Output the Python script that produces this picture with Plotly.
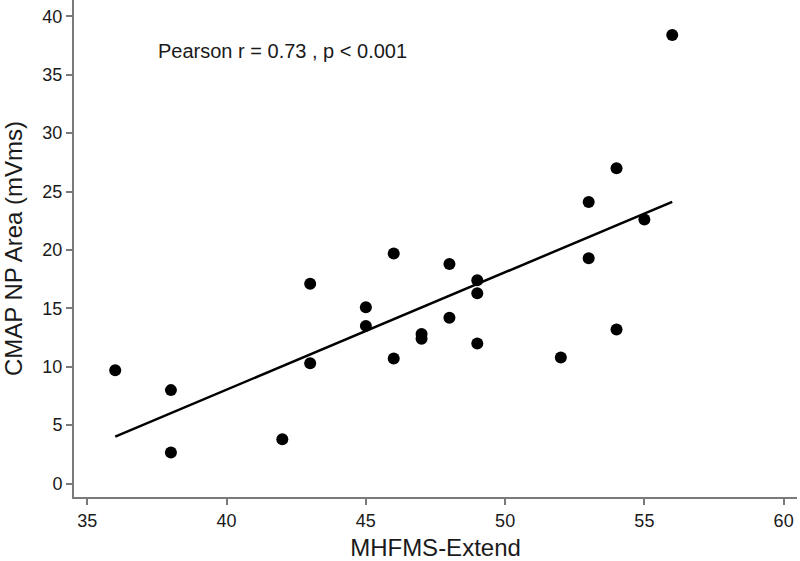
import numpy as np
import plotly.graph_objects as go

mhfms = [36, 38, 38, 42, 43, 43, 45, 45, 46, 46, 47, 47, 48, 48,
         49, 49, 49, 52, 53, 53, 54, 54, 55, 56]
cmap_area = [9.7, 8.0, 2.65, 3.8, 17.1, 10.3, 15.1, 13.5, 19.7, 10.7, 12.8, 12.4, 18.8, 14.2,
             17.4, 16.3, 12.0, 10.8, 24.1, 19.3, 27.0, 13.2, 22.6, 38.4]
x_ticks = [35, 40, 45, 50, 55, 60]
y_ticks = [0, 5, 10, 15, 20, 25, 30, 35, 40]
annotation_text = "Pearson r = 0.73 , p < 0.001"

slope, intercept = np.polyfit(mhfms, cmap_area, 1)
fit_x = [min(mhfms), max(mhfms)]
fit_y = [slope * v + intercept for v in fit_x]

font_family = "Liberation Sans, Arial, Helvetica, sans-serif"
axis_color = "#7a7a7a"
text_color = "#1a1a1a"

fig = go.Figure()
fig.add_trace(go.Scatter(x=mhfms, y=cmap_area, mode="markers",
                         marker=dict(color="black", size=12, line=dict(width=0)),
                         showlegend=False))
fig.add_trace(go.Scatter(x=fit_x, y=fit_y, mode="lines",
                         line=dict(color="black", width=2.5),
                         showlegend=False))

fig.add_annotation(x=37.45, y=37.0, xref="x", yref="y", text=annotation_text,
                   showarrow=False, xanchor="left", yanchor="middle",
                   font=dict(family=font_family, size=20, color=text_color))

fig.update_layout(
    width=800, height=561,
    margin=dict(l=74, r=3, t=0, b=64),
    plot_bgcolor="white", paper_bgcolor="white",
    font=dict(family=font_family, color=text_color),
)
fig.update_xaxes(range=[34.52, 60.48], tickvals=x_ticks, ticktext=[str(v) for v in x_ticks],
                 showgrid=False, zeroline=False, showline=True, linecolor=axis_color, linewidth=2,
                 ticks="outside", ticklen=6, tickwidth=2, tickcolor=axis_color,
                 tickfont=dict(size=18, color=text_color),
                 title=dict(text="MHFMS-Extend", font=dict(size=24, color=text_color), standoff=11))
fig.update_yaxes(range=[-1.15, 41.4], tickvals=y_ticks, ticktext=[str(v) for v in y_ticks],
                 showgrid=False, zeroline=False, showline=True, linecolor=axis_color, linewidth=2,
                 ticks="outside", ticklen=6, tickwidth=2, tickcolor=axis_color,
                 tickfont=dict(size=18, color=text_color),
                 title=dict(text="CMAP NP Area (mVms)", font=dict(size=24, color=text_color), standoff=13))

fig.write_html("out.html", config={"displayModeBar": False},
               post_script="document.body.style.margin='0';document.body.style.padding='0';")
